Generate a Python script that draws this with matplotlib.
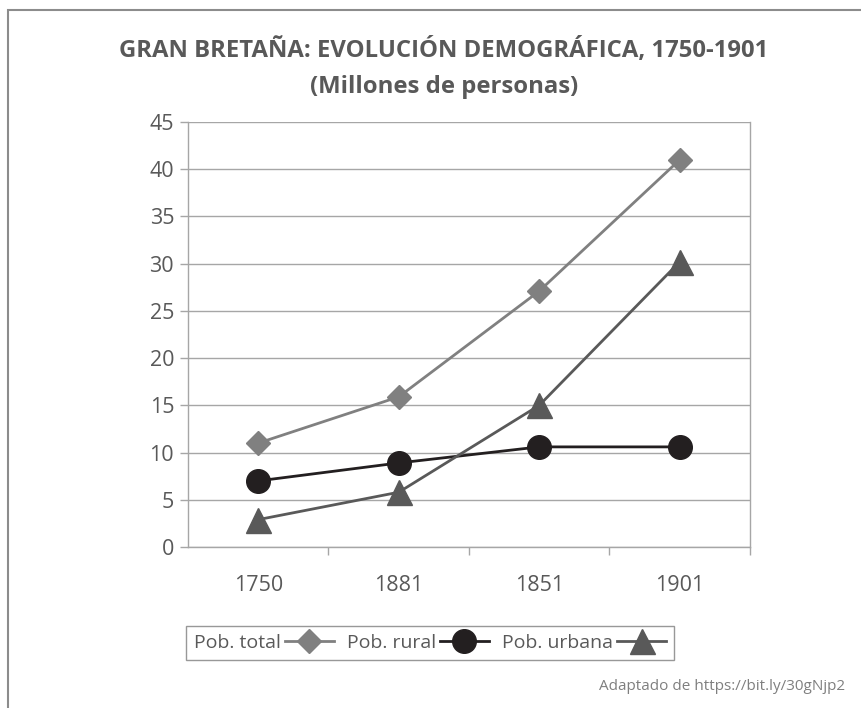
import matplotlib.pyplot as plt
from matplotlib.patches import Rectangle

# datos (millones de personas)
years = ["1750", "1881", "1851", "1901"]
pob_total = [11.0, 15.9, 27.1, 41.0]
pob_rural = [7.0, 8.9, 10.6, 10.6]
pob_urbana = [2.9, 5.8, 15.0, 30.2]
y_ticks = [0, 5, 10, 15, 20, 25, 30, 35, 40, 45]

plt.rcParams['font.family'] = ['Open Sans', 'DejaVu Sans']
TXT = '#595959'
GRID = '#a6a6a6'

fig = plt.figure(figsize=(8.62, 7.08), dpi=100)
# marco exterior
fig.patches.append(Rectangle((8 / 862, -0.1), 1.2, 1 - 10 / 708 + 0.1,
                             transform=fig.transFigure, fill=False,
                             edgecolor='#8c8c8c', linewidth=1.5))

ax = fig.add_axes([188 / 862, 1 - 547 / 708, 562 / 862, 425 / 708])
x = list(range(len(years)))

ax.plot(x, pob_total, color='#808080', linewidth=2, marker='D', markersize=12,
        label='Pob. total')
ax.plot(x, pob_rural, color='#231f20', linewidth=2, marker='o', markersize=17,
        label='Pob. rural')
ax.plot(x, pob_urbana, color='#595959', linewidth=2, marker='^', markersize=18,
        label='Pob. urbana')

ax.set_xlim(-0.5, len(years) - 0.5)
ax.set_ylim(0, 45)
ax.set_yticks(y_ticks)
ax.set_xticks(x)
ax.set_xticklabels(years)
ax.set_xticks([i + 0.5 for i in range(len(years))], minor=True)
ax.tick_params(axis='x', which='major', length=0, pad=20, labelsize=15.5, labelcolor=TXT)
ax.tick_params(axis='x', which='minor', length=6, color=GRID, width=1, direction='out')
ax.tick_params(axis='y', length=6, color=GRID, width=1, labelsize=15.5, labelcolor=TXT, pad=4)
ax.grid(axis='y', color=GRID, linewidth=1)
ax.set_axisbelow(True)
ax.spines['top'].set_visible(False)
for s in ['left', 'bottom', 'right']:
    ax.spines[s].set_color(GRID)
    ax.spines[s].set_linewidth(1)

fig.text(444 / 862, 1 - 50 / 708, 'GRAN BRETAÑA: EVOLUCIÓN DEMOGRÁFICA, 1750-1901',
         ha='center', va='center', fontsize=17.2, fontweight='bold', color=TXT)
fig.text(444 / 862, 1 - 87 / 708, '(Millones de personas)',
         ha='center', va='center', fontsize=17.2, fontweight='bold', color=TXT)

leg = fig.legend(loc='center', bbox_to_anchor=(430 / 862, 1 - 643 / 708), ncol=3,
                 markerfirst=False, frameon=True, fancybox=False, fontsize=14,
                 handlelength=2.5, columnspacing=0.7, handletextpad=0.2,
                 borderpad=0.4)
leg.get_frame().set_edgecolor('#7f7f7f')
leg.get_frame().set_linewidth(1)
for t in leg.get_texts():
    t.set_color(TXT)

fig.text(845 / 862, 1 - 687 / 708, 'Adaptado de https://bit.ly/30gNjp2',
         ha='right', va='center', fontsize=11, color='#7f7f7f')

fig.savefig('out.png', dpi=100)
